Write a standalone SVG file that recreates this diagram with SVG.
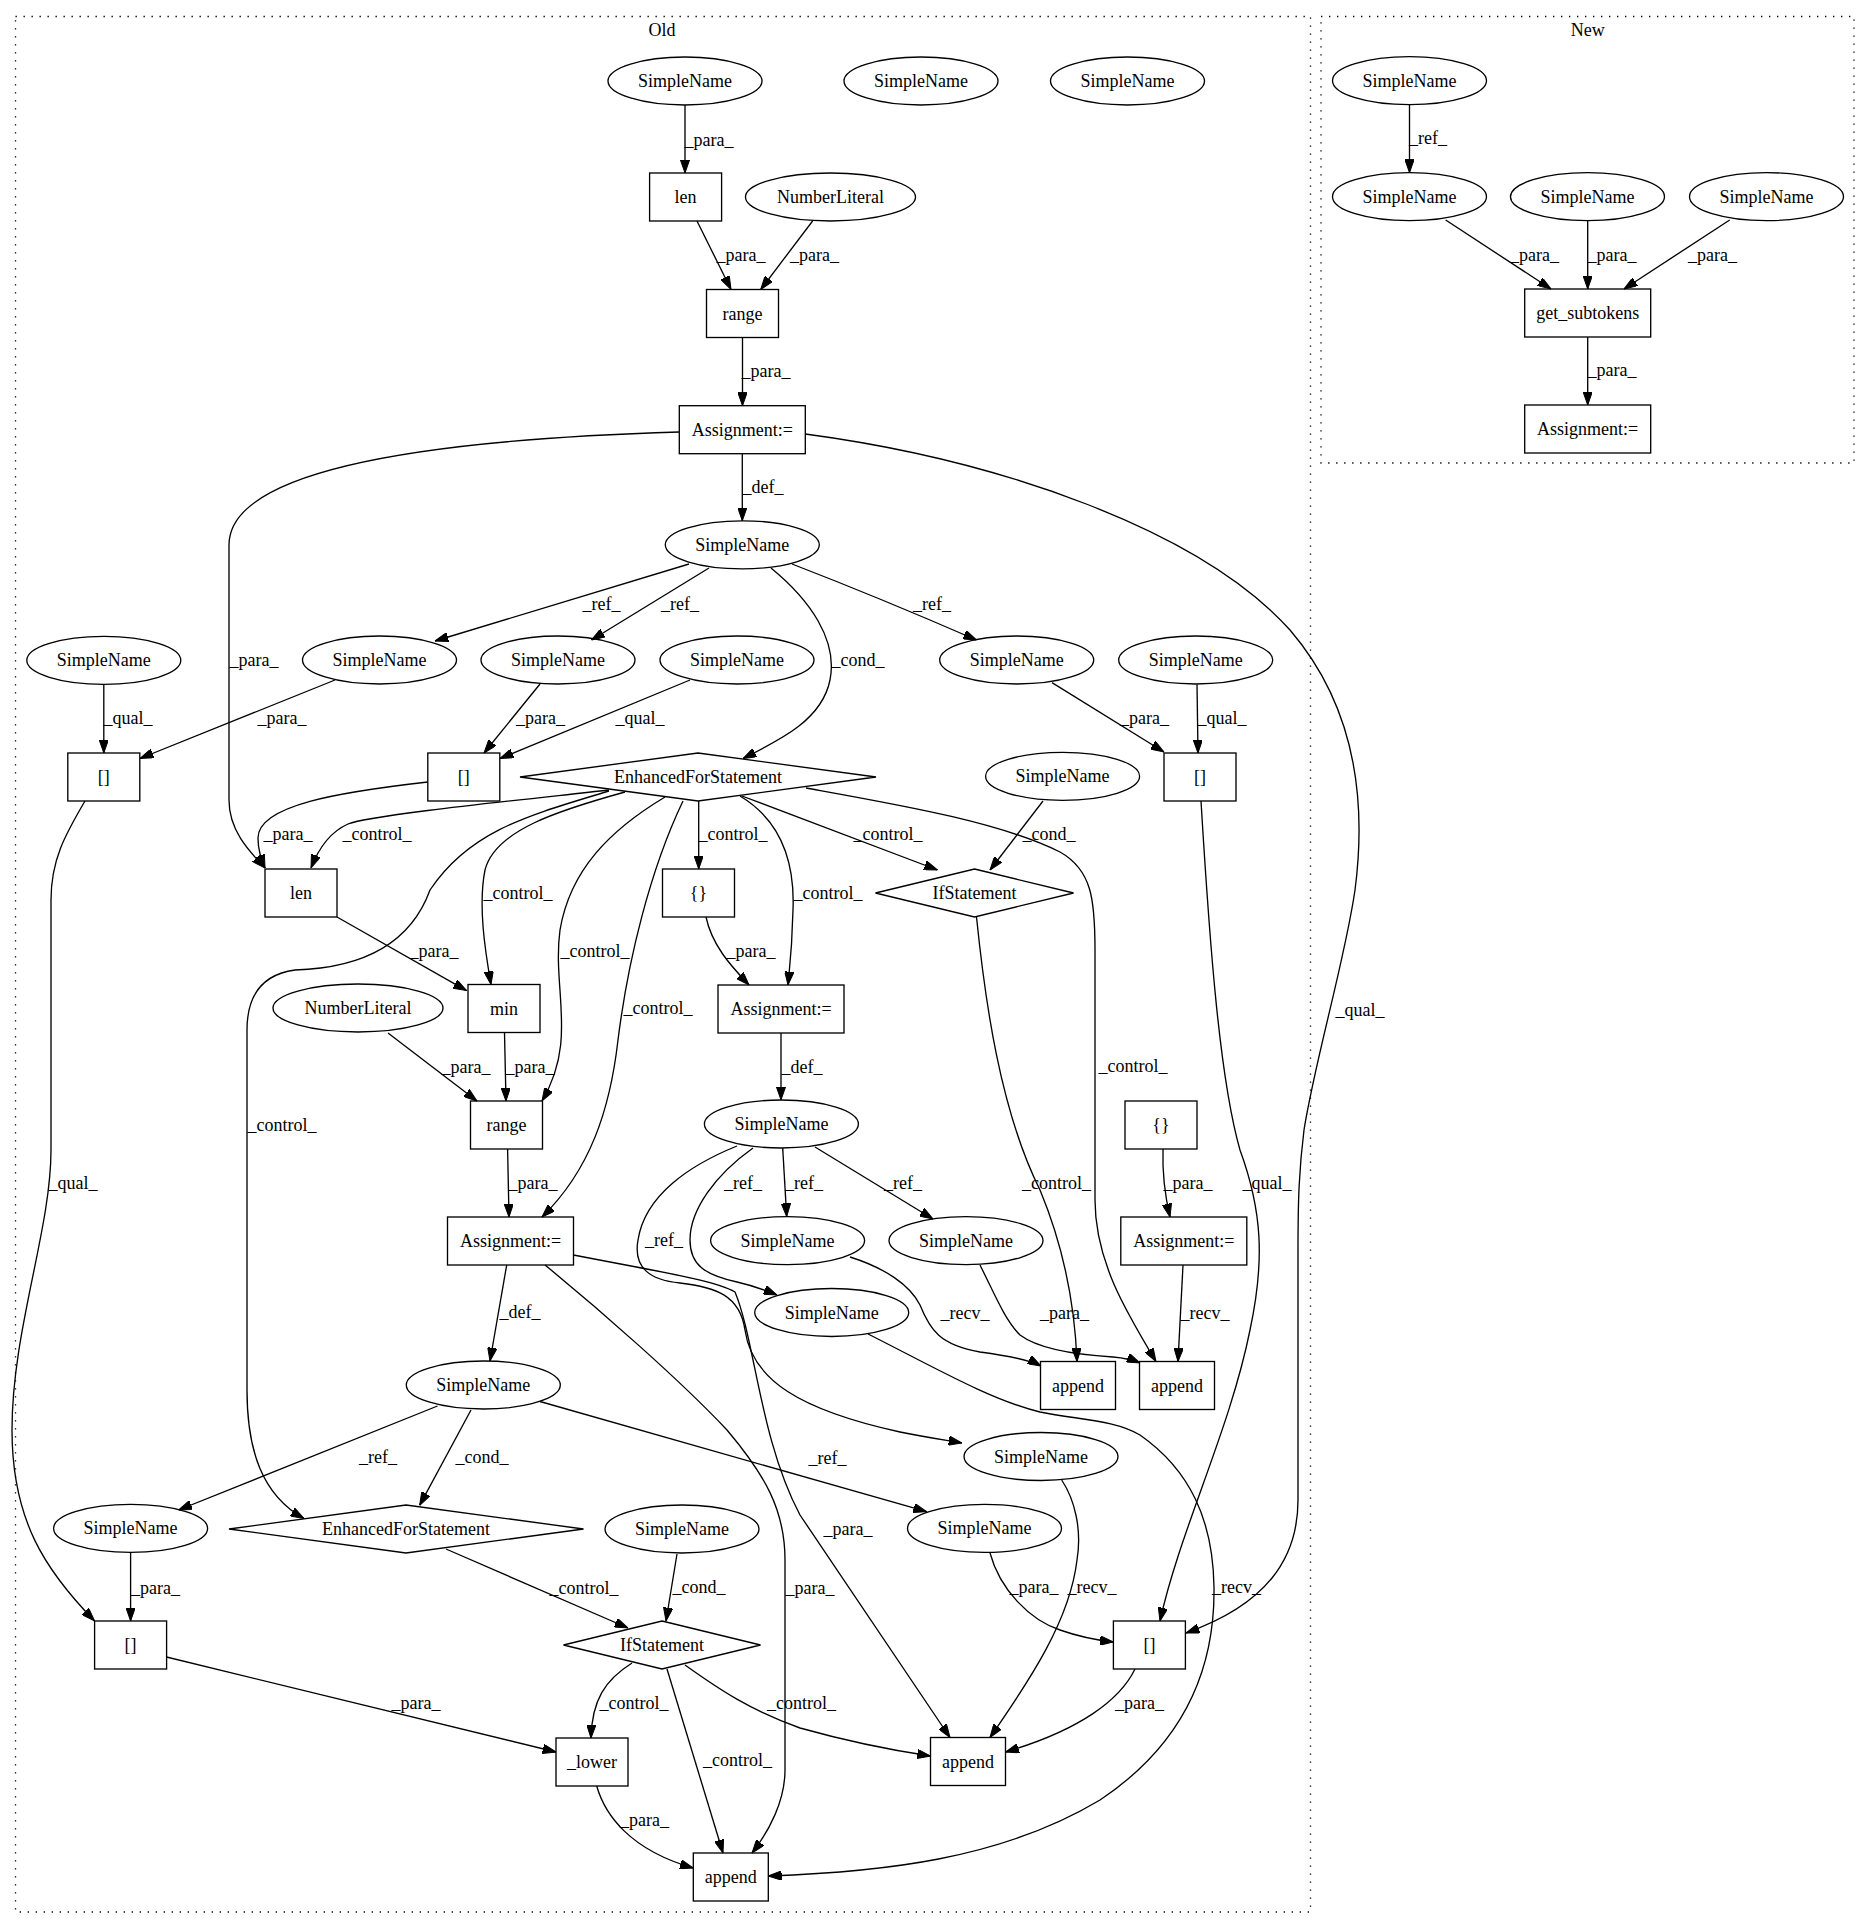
<svg xmlns="http://www.w3.org/2000/svg" width="1871" height="1928" viewBox="0 0 1871 1928">
<defs>
<style>
text{font-family:"Liberation Serif","Times New Roman",serif;font-size:18px;fill:#000}
.node text,.edge text,.cl text{text-anchor:middle}
.node ellipse,.node rect,.node polygon{fill:none;stroke:#000;stroke-width:1.33}
.edge path{fill:none;stroke:#000;stroke-width:1.33;marker-end:url(#ah)}
.cl rect{fill:none;stroke:#000;stroke-width:1.33;stroke-dasharray:1.33,6.67}
</style>
<marker id="ah" viewBox="0 0 13.3 9.34" refX="13.3" refY="4.67" markerWidth="13.3" markerHeight="9.34" markerUnits="userSpaceOnUse" orient="auto"><path d="M0,0 L13.3,4.67 L0,9.34 z" fill="#000" stroke="#000" stroke-width="1"/></marker>
</defs>
<rect x="0" y="0" width="1871" height="1928" fill="#fff"/>
<g id="clusters" class="cl">
<g id="cluster_old"><rect x="15.5" y="16.5" width="1295" height="1895.5"/><text x="662" y="36">Old</text></g>
<g id="cluster_new"><rect x="1321" y="16.5" width="533" height="446.5"/><text x="1587.7" y="36">New</text></g>
</g>
<g id="edges">
<g class="edge"><path d="M685,105 L685,173"/><text x="709" y="146">_para_</text></g>
<g class="edge"><path d="M697,221 L731,289.5"/><text x="741" y="261">_para_</text></g>
<g class="edge"><path d="M812.6,221 L760.7,289.5"/><text x="814.6" y="261">_para_</text></g>
<g class="edge"><path d="M742.5,337.5 L742.5,405.7"/><text x="766" y="377">_para_</text></g>
<g class="edge"><path d="M742.3,453.7 L742.3,520.8"/><text x="763" y="493">_def_</text></g>
<g class="edge"><path d="M679.3,432 C480,438 229,460 229,545 L229,800 C229,830 248,850 265,868"/><text x="254" y="666">_para_</text></g>
<g class="edge"><path d="M689,564 L435,641"/><text x="601.5" y="610">_ref_</text></g>
<g class="edge"><path d="M709,568 L591.5,640"/><text x="680" y="610">_ref_</text></g>
<g class="edge"><path d="M771,568 C810,600 838,640 830,680 C822,720 780,740 743,758.5"/><text x="858" y="666">_cond_</text></g>
<g class="edge"><path d="M792,564 Q880,598 976.5,640"/><text x="932" y="610">_ref_</text></g>
<g class="edge"><path d="M805.3,434 C1000,460 1200,530 1290,630 C1350,700 1368,790 1355,890 C1345,960 1315,1060 1304,1130 C1299,1170 1298,1200 1298,1250 L1298,1500 C1298,1560 1265,1605 1186,1633"/><text x="1360" y="1016">_qual_</text></g>
<g class="edge"><path d="M103.8,684.3 L103.8,753"/><text x="128" y="724">_qual_</text></g>
<g class="edge"><path d="M335,680 L140,758.5"/><text x="282" y="724">_para_</text></g>
<g class="edge"><path d="M540,684 L484,753"/><text x="540.6" y="724">_para_</text></g>
<g class="edge"><path d="M690,680 L500,758.5"/><text x="640" y="724">_qual_</text></g>
<g class="edge"><path d="M427.7,782 C340,792 258,805 258,838 C258,850 261,858 265,868"/><text x="288" y="840">_para_</text></g>
<g class="edge"><path d="M609,790 C520,800 370,815 348,824 C330,832 318,850 311,868"/><text x="377" y="840">_control_</text></g>
<g class="edge"><path d="M609,791 C530,815 470,830 430,890 C410,945 360,968 295,970 C258,975 247,1000 247,1030 L247,1390 C247,1450 262,1495 304,1518.5"/><text x="282" y="1131">_control_</text></g>
<g class="edge"><path d="M625,792 C560,810 495,830 485,870 C478,905 485,950 491,984.5"/><text x="518" y="899">_control_</text></g>
<g class="edge"><path d="M665,797 C610,830 570,870 560,930 C552,990 578,1040 542,1101"/><text x="595" y="957">_control_</text></g>
<g class="edge"><path d="M683,801 C650,870 628,960 618,1040 C610,1110 590,1170 542,1217"/><text x="658" y="1014">_control_</text></g>
<g class="edge"><path d="M698.7,801 L698.7,869"/><text x="733" y="840">_control_</text></g>
<g class="edge"><path d="M740,796 C780,820 795,860 793,910 C792,950 790,965 788,985"/><text x="828" y="899">_control_</text></g>
<g class="edge"><path d="M742,796 L937.5,870"/><text x="888" y="840">_control_</text></g>
<g class="edge"><path d="M806,788 C900,805 1000,822 1060,852 C1092,870 1095,900 1095,950 L1095,1200 C1095,1260 1125,1310 1156,1361.5"/><text x="1133" y="1072">_control_</text></g>
<g class="edge"><path d="M1043,801 L990,870"/><text x="1049" y="840">_cond_</text></g>
<g class="edge"><path d="M1052,682.6 L1164,752"/><text x="1144.5" y="724">_para_</text></g>
<g class="edge"><path d="M1197,684.5 L1198,753"/><text x="1222" y="724">_qual_</text></g>
<g class="edge"><path d="M706,917 C712,945 730,965 749,985"/><text x="751" y="957">_para_</text></g>
<g class="edge"><path d="M976.5,917 C985,1000 1000,1110 1040,1190 C1065,1250 1075,1310 1077,1361.5"/><text x="1056.5" y="1189">_control_</text></g>
<g class="edge"><path d="M337,917 L466.5,990.6"/><text x="434" y="957">_para_</text></g>
<g class="edge"><path d="M388,1033 L477,1101"/><text x="466" y="1073">_para_</text></g>
<g class="edge"><path d="M504.5,1032.5 L506,1101"/><text x="530" y="1073">_para_</text></g>
<g class="edge"><path d="M507.6,1149 L509,1217"/><text x="533" y="1189">_para_</text></g>
<g class="edge"><path d="M781,1033 L781,1100"/><text x="802" y="1073">_def_</text></g>
<g class="edge"><path d="M782.7,1148 L786.7,1216.6"/><text x="804" y="1189">_ref_</text></g>
<g class="edge"><path d="M815,1147 L933,1219"/><text x="903" y="1189">_ref_</text></g>
<g class="edge"><path d="M753,1148 C715,1175 690,1210 690,1240 C690,1265 705,1275 737,1282 C750,1285 765,1290 777,1295"/><text x="743" y="1189">_ref_</text></g>
<g class="edge"><path d="M737,1146 C690,1165 645,1195 638,1240 C633,1268 650,1280 680,1283 C715,1287 740,1295 745,1330 C752,1380 800,1410 900,1432 C930,1438 945,1440 962,1443"/><text x="664" y="1246">_ref_</text></g>
<g class="edge"><path d="M506.7,1265 L490,1361"/><text x="520" y="1318">_def_</text></g>
<g class="edge"><path d="M573.5,1255 C650,1270 715,1280 735,1292 C755,1340 760,1440 800,1515 L950,1737.5"/><text x="848" y="1535">_para_</text></g>
<g class="edge"><path d="M545,1265 C600,1310 680,1380 727,1430 C765,1475 785,1510 785,1560 L785,1770 C785,1800 770,1830 752,1853"/><text x="810" y="1594">_para_</text></g>
<g class="edge"><path d="M850,1257 C885,1268 910,1285 920,1305 C930,1330 940,1345 980,1352 C1010,1356 1030,1360 1041,1366"/><text x="965" y="1319">_recv_</text></g>
<g class="edge"><path d="M980,1265 C995,1295 1005,1320 1020,1335 C1040,1350 1080,1355 1113,1357 C1125,1358 1133,1360 1140,1363"/><text x="1064.5" y="1319">_para_</text></g>
<g class="edge"><path d="M1183,1265 L1178,1361.5"/><text x="1205" y="1319">_recv_</text></g>
<g class="edge"><path d="M1163,1149 C1162,1180 1166,1200 1170,1217"/><text x="1188" y="1189">_para_</text></g>
<g class="edge"><path d="M1201,801 C1210,950 1220,1080 1240,1150 C1262,1210 1265,1260 1250,1330 C1230,1430 1180,1530 1160,1621"/><text x="1267" y="1189">_qual_</text></g>
<g class="edge"><path d="M868,1334 C930,1365 990,1400 1040,1412 C1080,1420 1115,1420 1140,1435 C1190,1470 1213,1520 1214,1587 C1215,1660 1190,1740 1100,1800 C1000,1860 880,1872 768.3,1876"/><text x="1236.5" y="1593">_recv_</text></g>
<g class="edge"><path d="M1061.7,1480 C1075,1500 1082,1530 1077,1560 C1070,1620 1030,1680 990,1737.5"/><text x="1092" y="1593">_recv_</text></g>
<g class="edge"><path d="M990,1553 C1000,1590 1030,1620 1060,1630 C1080,1637 1095,1640 1113.4,1642"/><text x="1034" y="1593">_para_</text></g>
<g class="edge"><path d="M1135,1669 C1120,1700 1080,1730 1005.5,1752"/><text x="1139.5" y="1709">_para_</text></g>
<g class="edge"><path d="M437.5,1406 L178.6,1510"/><text x="378" y="1463">_ref_</text></g>
<g class="edge"><path d="M471,1410 L419.6,1505.4"/><text x="482" y="1463">_cond_</text></g>
<g class="edge"><path d="M540,1401.5 L926.7,1511.7"/><text x="827.5" y="1464">_ref_</text></g>
<g class="edge"><path d="M130.6,1552.4 L130.6,1621"/><text x="155.5" y="1594">_para_</text></g>
<g class="edge"><path d="M85,801 C65,835 51,860 51,900 L51,1150 C51,1230 12,1330 12,1430 C12,1520 45,1570 94.6,1621"/><text x="73" y="1189">_qual_</text></g>
<g class="edge"><path d="M446,1549 L628,1628"/><text x="584" y="1594">_control_</text></g>
<g class="edge"><path d="M677,1554 L666,1621"/><text x="699" y="1593">_cond_</text></g>
<g class="edge"><path d="M166.5,1657 L556,1752"/><text x="416" y="1709">_para_</text></g>
<g class="edge"><path d="M632,1663 C605,1680 592,1700 591,1738"/><text x="634" y="1709">_control_</text></g>
<g class="edge"><path d="M667,1669 L723,1853"/><text x="737.5" y="1766">_control_</text></g>
<g class="edge"><path d="M685,1665 C720,1690 750,1710 800,1728 C850,1742 890,1750 930.5,1756"/><text x="801.5" y="1709">_control_</text></g>
<g class="edge"><path d="M596.7,1786 C605,1815 630,1850 693.3,1868"/><text x="644.5" y="1826">_para_</text></g>
<g class="edge"><path d="M1409.5,104.7 L1409.5,172.7"/><text x="1428" y="144">_ref_</text></g>
<g class="edge"><path d="M1445.7,220 L1551,289"/><text x="1534.5" y="261">_para_</text></g>
<g class="edge"><path d="M1587.7,220.7 L1587.7,289"/><text x="1612" y="261">_para_</text></g>
<g class="edge"><path d="M1729.7,220 L1624,289"/><text x="1712.5" y="261">_para_</text></g>
<g class="edge"><path d="M1587.7,337 L1587.7,405"/><text x="1612" y="376">_para_</text></g>
</g>
<g id="nodes">
<g id="sn_top" class="node"><ellipse cx="685" cy="81" rx="77" ry="24"/><text x="685" y="87">SimpleName</text></g>
<g id="sn_iso1" class="node"><ellipse cx="921" cy="81" rx="77" ry="24"/><text x="921" y="87">SimpleName</text></g>
<g id="sn_iso2" class="node"><ellipse cx="1127.5" cy="81" rx="77" ry="24"/><text x="1127.5" y="87">SimpleName</text></g>
<g id="len1" class="node"><rect x="649.6" y="173" width="72" height="48"/><text x="685.6" y="203">len</text></g>
<g id="num1" class="node"><ellipse cx="830.5" cy="197" rx="85" ry="24"/><text x="830.5" y="203">NumberLiteral</text></g>
<g id="range1" class="node"><rect x="706.5" y="289.5" width="72" height="48"/><text x="742.5" y="319.5">range</text></g>
<g id="assign1" class="node"><rect x="679.3" y="405.7" width="126" height="48"/><text x="742.3" y="435.7">Assignment:=</text></g>
<g id="sn_loop1" class="node"><ellipse cx="742.3" cy="544.8" rx="77" ry="24"/><text x="742.3" y="550.8">SimpleName</text></g>
<g id="sn_f" class="node"><ellipse cx="103.8" cy="660.3" rx="77" ry="24"/><text x="103.8" y="666.3">SimpleName</text></g>
<g id="sn_a" class="node"><ellipse cx="379.5" cy="660" rx="77" ry="24"/><text x="379.5" y="666">SimpleName</text></g>
<g id="sn_b" class="node"><ellipse cx="558" cy="660" rx="77" ry="24"/><text x="558" y="666">SimpleName</text></g>
<g id="sn_c" class="node"><ellipse cx="737" cy="660" rx="77" ry="24"/><text x="737" y="666">SimpleName</text></g>
<g id="sn_d" class="node"><ellipse cx="1016.7" cy="660" rx="77" ry="24"/><text x="1016.7" y="666">SimpleName</text></g>
<g id="sn_e" class="node"><ellipse cx="1195.7" cy="660" rx="77" ry="24"/><text x="1195.7" y="666">SimpleName</text></g>
<g id="idx_l" class="node"><rect x="67.8" y="753" width="72" height="48"/><text x="103.8" y="783">[]</text></g>
<g id="idx_m" class="node"><rect x="427.8" y="753" width="72" height="48"/><text x="463.8" y="783">[]</text></g>
<g id="efs1" class="node"><polygon points="698,753 876,777 698,801 520,777"/><text x="698" y="783">EnhancedForStatement</text></g>
<g id="sn_g" class="node"><ellipse cx="1062.6" cy="776.3" rx="77" ry="24"/><text x="1062.6" y="782.3">SimpleName</text></g>
<g id="idx_r" class="node"><rect x="1164" y="753" width="72" height="48"/><text x="1200" y="783">[]</text></g>
<g id="len2" class="node"><rect x="265" y="869" width="72" height="48"/><text x="301" y="899">len</text></g>
<g id="brace1" class="node"><rect x="662.5" y="869" width="72" height="48"/><text x="698.5" y="899">{}</text></g>
<g id="if1" class="node"><polygon points="974.5,869 1073.5,893 974.5,917 875.5,893"/><text x="974.5" y="899">IfStatement</text></g>
<g id="num2" class="node"><ellipse cx="358" cy="1008" rx="85" ry="24"/><text x="358" y="1014">NumberLiteral</text></g>
<g id="min" class="node"><rect x="468" y="984.5" width="72" height="48"/><text x="504" y="1014.5">min</text></g>
<g id="assign2" class="node"><rect x="718" y="985" width="126" height="48"/><text x="781" y="1015">Assignment:=</text></g>
<g id="range2" class="node"><rect x="470.5" y="1101" width="72" height="48"/><text x="506.5" y="1131">range</text></g>
<g id="sn_acc" class="node"><ellipse cx="781.4" cy="1124" rx="77" ry="24"/><text x="781.4" y="1130">SimpleName</text></g>
<g id="brace2" class="node"><rect x="1125" y="1101" width="72" height="48"/><text x="1161" y="1131">{}</text></g>
<g id="assign3" class="node"><rect x="447.5" y="1217" width="126" height="48"/><text x="510.5" y="1247">Assignment:=</text></g>
<g id="sn_h" class="node"><ellipse cx="787.6" cy="1240.6" rx="77" ry="24"/><text x="787.6" y="1246.6">SimpleName</text></g>
<g id="sn_i" class="node"><ellipse cx="966" cy="1240.6" rx="77" ry="24"/><text x="966" y="1246.6">SimpleName</text></g>
<g id="assign4" class="node"><rect x="1120.8" y="1217" width="126" height="48"/><text x="1183.8" y="1247">Assignment:=</text></g>
<g id="sn_j" class="node"><ellipse cx="831.7" cy="1312.5" rx="77" ry="24"/><text x="831.7" y="1318.5">SimpleName</text></g>
<g id="append1" class="node"><rect x="1040.5" y="1361.5" width="75" height="48"/><text x="1078" y="1391.5">append</text></g>
<g id="append2" class="node"><rect x="1139.5" y="1361.5" width="75" height="48"/><text x="1177" y="1391.5">append</text></g>
<g id="sn_loop2" class="node"><ellipse cx="483.3" cy="1385" rx="77" ry="24"/><text x="483.3" y="1391">SimpleName</text></g>
<g id="sn_k" class="node"><ellipse cx="1041" cy="1456.5" rx="77" ry="24"/><text x="1041" y="1462.5">SimpleName</text></g>
<g id="sn_l" class="node"><ellipse cx="130.6" cy="1528.4" rx="77" ry="24"/><text x="130.6" y="1534.4">SimpleName</text></g>
<g id="efs2" class="node"><polygon points="406,1505 583.5,1529 406,1553 229,1529"/><text x="406" y="1535">EnhancedForStatement</text></g>
<g id="sn_m" class="node"><ellipse cx="682" cy="1529" rx="77" ry="24"/><text x="682" y="1535">SimpleName</text></g>
<g id="sn_n" class="node"><ellipse cx="984.5" cy="1528.4" rx="77" ry="24"/><text x="984.5" y="1534.4">SimpleName</text></g>
<g id="idx_bl" class="node"><rect x="94.6" y="1621" width="72" height="48"/><text x="130.6" y="1651">[]</text></g>
<g id="if2" class="node"><polygon points="662,1621 760.5,1645 662,1669 563.5,1645"/><text x="662" y="1651">IfStatement</text></g>
<g id="idx_br" class="node"><rect x="1113.4" y="1621" width="72" height="48"/><text x="1149.4" y="1651">[]</text></g>
<g id="lower" class="node"><rect x="556" y="1738" width="72" height="48"/><text x="592" y="1768">_lower</text></g>
<g id="append3" class="node"><rect x="930.5" y="1737.5" width="75" height="48"/><text x="968" y="1767.5">append</text></g>
<g id="append4" class="node"><rect x="693.3" y="1853" width="75" height="48"/><text x="730.8" y="1883">append</text></g>
<g id="nsn1" class="node"><ellipse cx="1409.5" cy="80.7" rx="77" ry="24"/><text x="1409.5" y="86.7">SimpleName</text></g>
<g id="nsn2" class="node"><ellipse cx="1409.5" cy="196.7" rx="77" ry="24"/><text x="1409.5" y="202.7">SimpleName</text></g>
<g id="nsn3" class="node"><ellipse cx="1587.5" cy="196.7" rx="77" ry="24"/><text x="1587.5" y="202.7">SimpleName</text></g>
<g id="nsn4" class="node"><ellipse cx="1766.5" cy="196.7" rx="77" ry="24"/><text x="1766.5" y="202.7">SimpleName</text></g>
<g id="gst" class="node"><rect x="1524.7" y="289" width="126" height="48"/><text x="1587.7" y="319">get_subtokens</text></g>
<g id="nassign" class="node"><rect x="1524.7" y="405" width="126" height="48"/><text x="1587.7" y="435">Assignment:=</text></g>
</g>
</svg>
